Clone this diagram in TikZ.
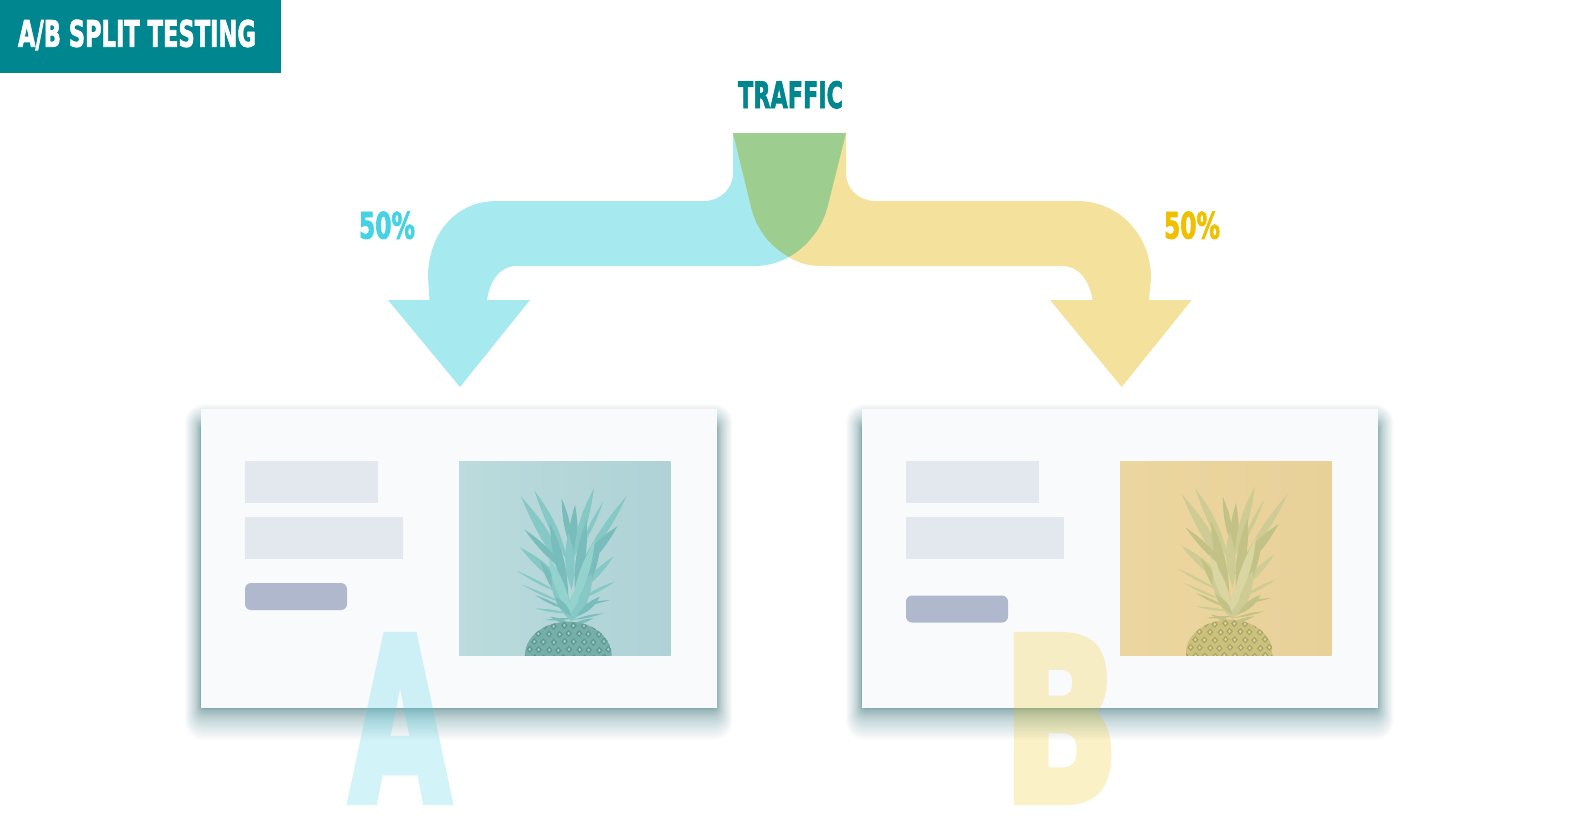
\documentclass[tikz,border=0pt]{standalone}
\usepackage{graphicx}
\usepackage{fontspec}
\newfontfamily\headfont[UprightFont=* Bold,FakeBold=2.4]{DejaVu Sans}
\newfontfamily\bigfont[UprightFont=* Bold,FakeBold=4]{DejaVu Sans}
\definecolor{teal}{HTML}{00868F}
\definecolor{cy}{HTML}{45D3E3}
\definecolor{ye}{HTML}{EFC000}
\definecolor{cyarrow}{HTML}{A6E9EF}
\definecolor{yearrow}{HTML}{F4E19C}
\definecolor{overlap}{HTML}{9ECD90}
\definecolor{panelbg}{HTML}{F8FAFC}
\definecolor{bar}{HTML}{E3E7EE}
\definecolor{btn}{HTML}{AFB8CD}
\definecolor{shadowc}{HTML}{0E5A62}
\definecolor{aL}{HTML}{BBDBDC}\definecolor{aR}{HTML}{AED2D6}
\definecolor{aLeaf}{HTML}{86C8C5}\definecolor{aDark}{HTML}{78BDBC}
\definecolor{aLight}{HTML}{94D3CD}\definecolor{aBody}{HTML}{74B0A9}
\definecolor{bL}{HTML}{ECD69F}\definecolor{bR}{HTML}{E8D199}
\definecolor{bLeaf}{HTML}{CFCB94}\definecolor{bDark}{HTML}{C3C286}
\definecolor{bLight}{HTML}{D9D6A2}\definecolor{bBody}{HTML}{CCC17A}
\newcommand{\fitbox}[3]{\resizebox{#1pt}{#2pt}{#3}}
\tikzset{
  label text/.style={inner sep=0pt,outer sep=0pt,anchor=base west},
  panel/.style={fill=panelbg},
  barbox/.style={fill=bar},
  btnbox/.style={fill=btn,rounded corners=6pt},
}
% panel with shadow: #1 = x offset, #2 = button y offset
\newcommand{\panelat}[2]{%
  \begin{scope}[xshift=#1pt]
    \foreach \k in {1,...,36}{
      \pgfmathsetmacro\t{(\k/36)^2.4}
      \pgfmathsetmacro\rr{3+16*\t}
      \fill[shadowc,opacity=.019,rounded corners=\rr pt]
        ({201-16*\t},{425-21*\t}) rectangle ({716.5+16*\t},{708+32*\t});
    }
    \fill[panel] (201,409) rectangle (716.5,708);
    \fill[barbox] (245,461) rectangle (378,503);
    \fill[barbox] (245,517) rectangle (403,559);
    \fill[btnbox] (245,{583+#2}) rectangle (347,{610+#2});
  \end{scope}}
\newcommand{\leaf}[5]{\fill[#5] (#1) to[bend left=#3] (#2) to[bend left=#4] (#1);}
% pineapple: #1 x, #2 left bg, #3 right bg, #4 leaf, #5 dark, #6 light, #7 body, #8 leaf dy
\newcommand{\pineapple}[8]{%
  \begin{scope}[xshift=#1pt]
    \begin{scope}
      \clip (459,461) rectangle (670.7,655.7);
      \shade[left color=#2,right color=#3] (459,461) rectangle (670.7,655.7);
      \begin{scope}[shift={(440,{450+#8})},x=.3333pt,y=-.3333pt]
        \leaf{385,380}{243,140}{8}{12}{#4}
        \leaf{385,340}{283,122}{6}{12}{#4}
        \leaf{395,300}{365,145}{10}{12}{#5}
        \leaf{395,340}{405,165}{14}{14}{#5}
        \leaf{400,330}{462,115}{12}{8}{#4}
        \leaf{420,300}{490,155}{8}{6}{#4}
        \leaf{425,340}{560,138}{7}{9}{#4}
        \leaf{400,380}{533,228}{16}{12}{#5}
        \leaf{410,430}{520,320}{12}{12}{#4}
        \leaf{420,450}{525,395}{10}{6}{#4}
        \leaf{410,470}{510,450}{8}{6}{#5}
        \leaf{385,420}{240,292}{10}{14}{#4}
        \leaf{380,370}{253,238}{8}{12}{#5}
        \leaf{360,430}{230,362}{6}{4}{#4}
        \leaf{370,460}{248,405}{6}{4}{#4}
        \leaf{380,480}{285,435}{8}{6}{#5}
        \leaf{390,490}{285,475}{8}{6}{#4}
        \leaf{400,505}{315,510}{8}{6}{#5}
        \leaf{400,510}{490,490}{8}{6}{#5}
        % dense middle of the crown
        \leaf{385,440}{330,220}{12}{12}{#5}
        \leaf{405,430}{440,210}{12}{12}{#5}
        \leaf{395,420}{385,250}{16}{16}{#4}
        \leaf{380,470}{300,330}{14}{14}{#5}
        \leaf{410,460}{480,300}{14}{14}{#5}
        \leaf{395,515}{335,370}{26}{26}{#4}
        \leaf{395,515}{455,370}{26}{26}{#4}
        \leaf{395,500}{325,320}{14}{14}{#6}
        \leaf{395,480}{465,270}{12}{12}{#6}
        \leaf{390,490}{415,410}{30}{30}{#6}
        \leaf{395,500}{345,440}{24}{24}{#5}
        \leaf{410,500}{480,440}{20}{20}{#5}
        \leaf{395,525}{330,500}{14}{14}{#5}
        \leaf{395,525}{460,505}{14}{14}{#5}
        \begin{scope}
          \clip (385,615) ellipse (130 and 100);
          \fill[#7] (385,615) ellipse (130 and 100);
          \foreach \a in {0,...,9}{
            \foreach \b in {0,...,4}{
              \pgfmathsetmacro\px{250+\a*30+mod(\b,2)*15+mod(\a*7+\b*3,5)}
              \pgfmathsetmacro\py{515+\b*24+mod(\a*5,4)}
              \fill[#7!85!black] (\px,\py) -- ++(10,11) -- ++(-10,11) -- ++(-10,-11) -- cycle;
              \fill[#6] (\px,{\py+6}) -- ++(4,5) -- ++(-4,5) -- ++(-4,-5) -- cycle;
            }
          }
        \end{scope}
      \end{scope}
    \end{scope}
  \end{scope}}
\begin{document}
\begin{tikzpicture}[x=1pt,y=-1pt]
\useasboundingbox (0,0) rectangle (1580,828);
\fill[white] (0,0) rectangle (1580,828);
% banner
\fill[teal] (0,0) rectangle (281,72.7);
\node[label text,text=white] (title) at (18,46.7) {\fitbox{238}{27}{\headfont A/B SPLIT TESTING}};
\node[label text,text=teal] (traffic) at (738,108) {\fitbox{105}{27}{\headfont TRAFFIC}};
\node[label text,text=cy] (pctA) at (359,238.5) {\fitbox{56}{27}{\headfont 50\%}};
\node[label text,text=ye] (pctB) at (1164,238.5) {\fitbox{56}{27}{\headfont 50\%}};
% blue arrow
\fill[cyarrow] (733,133) -- (733,173) .. controls (733,189) and (720,201) .. (704,201)
  -- (497,201) .. controls (453,201) and (428,237) .. (428,277) -- (429.5,300)
  -- (388,300) -- (460,387) -- (530,300) -- (487,300)
  .. controls (490,280) and (500,266) .. (517,266)
  -- (754,266) .. controls (767,266) and (778,263) .. (789,257)
  -- (827.5,207) -- (846,133) -- cycle;
% yellow arrow
\fill[yearrow] (846,133) -- (846,173) .. controls (846,189) and (859,201) .. (875,201)
  -- (1077,201) .. controls (1119,201) and (1151,235) .. (1151,278) -- (1149,300)
  -- (1191.7,300) -- (1121.7,387) -- (1050,300) -- (1092.7,300)
  .. controls (1089,280) and (1079,266) .. (1062,266)
  -- (822,266) .. controls (809,266) and (798,263) .. (789,257)
  -- (751,207) -- (733,133) -- cycle;
% overlap
\fill[overlap] (733,133) -- (751,207) .. controls (757,231) and (771,247) .. (789,257)
  .. controls (806,247) and (821,231) .. (827.5,207) -- (846,133) -- cycle;
% panels
\panelat{0}{0}
\panelat{661}{12.5}
\pineapple{0}{aL}{aR}{aLeaf}{aDark}{aLight}{aBody}{0}
\pineapple{661}{bL}{bR}{bLeaf}{bDark}{bLight}{bBody}{-2}
% big letters
\begin{scope}[transparency group,opacity=.24]
\node[label text,text=cy] (letA) at (349.5,800.7) {\fitbox{101}{164}{\bigfont A}};
\end{scope}
\begin{scope}[transparency group,opacity=.22]
\node[label text,text=ye] (letB) at (1003,800.7) {\fitbox{116}{164}{\bigfont B}};
\end{scope}
\end{tikzpicture}
\end{document}
